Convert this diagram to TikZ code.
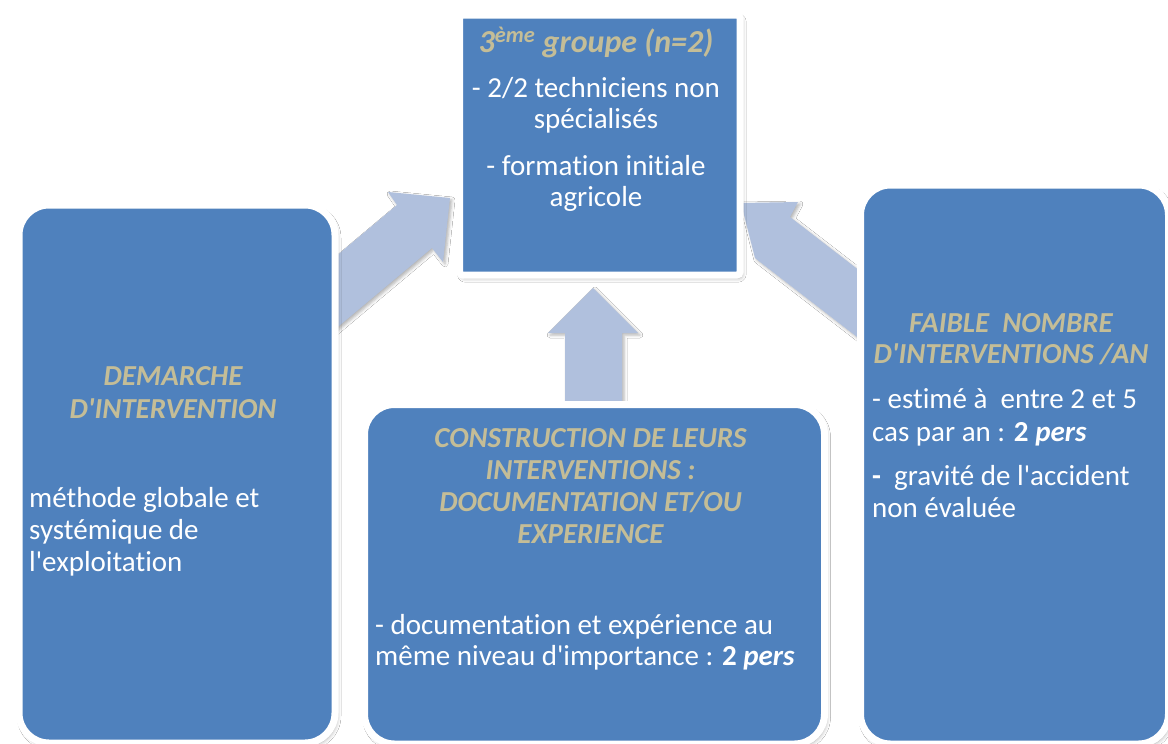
\documentclass[tikz,border=0pt]{standalone}
\usepackage{fontspec}
\setmainfont{Carlito}[Ligatures={TeXOff,NoCommon}]
\usetikzlibrary{shadows.blur}
\definecolor{boxblue}{RGB}{79,129,189}
\definecolor{titletan}{RGB}{196,189,151}
\definecolor{arrowblue}{RGB}{176,192,221}
\begin{document}
\begin{tikzpicture}[x=1pt,y=-1pt,
  panel/.style={draw=white, line width=7pt, fill=boxblue, rounded corners=30pt,
    inner sep=0pt, anchor=north west,
    blur shadow={shadow xshift=2pt, shadow yshift=-3pt, shadow blur radius=4pt, shadow opacity=35}},
  bigarrow/.style={fill=arrowblue,
    blur shadow={shadow xshift=2pt, shadow yshift=-2pt, shadow blur radius=3pt, shadow opacity=30}},
  body/.style={font=\fontsize{29}{31}\selectfont, text=white, inner sep=0pt},
  ttl/.style={font=\fontsize{29}{31}\selectfont\bfseries\itshape, text=titletan, inner sep=0pt},
  bl/.style={body, anchor=base west},
  tl/.style={ttl, anchor=base}]
\useasboundingbox (0,0) rectangle (1168,744);
\fill[white] (0,0) rectangle (1168,744);

% block arrows
\fill[bigarrow] (297,289) -- (397,205) -- (388,192) -- (450,198) -- (443,262) -- (432,248) -- (302,357) -- cycle;
\fill[bigarrow] (908.5,308.5) -- (790,217) -- (798,202) -- (741,203) -- (755,258) -- (760,262) -- (878.5,353.5) -- cycle;
\fill[bigarrow] (565,420) -- (565,333) -- (548,333) -- (593,288) -- (638,333) -- (622,333) -- (622,420) -- cycle;

% panels
\node[panel, minimum width=316pt, minimum height=538pt] (left) at (15.5,201.5) {};
\node[panel, minimum width=460pt, minimum height=339.5pt] (mid) at (361,401) {};
\node[panel, minimum width=308pt, minimum height=559pt] (right) at (857,181.5) {};
\node[panel, rounded corners=3pt, minimum width=280.5pt, minimum height=260pt] (top) at (456,11.5) {};

% top text
\node[tl, font=\fontsize{32}{34}\selectfont\bfseries\itshape] (t1) at (596,52) {3\textsuperscript{ème} groupe (n=2)};
\node[body, anchor=base] (t2) at (596,97) {- 2/2 techniciens non};
\node[body, anchor=base] (t3) at (596,128) {spécialisés};
\node[body, anchor=base] (t4) at (596,175) {- formation initiale};
\node[body, anchor=base] (t5) at (596,206) {agricole};

% left text
\node[tl] (l1) at (173,385) {DEMARCHE};
\node[tl] (l2) at (173,418) {D'INTERVENTION};
\node[bl] (l3) at (29,507) {méthode globale et};
\node[bl] (l4) at (29,539) {systémique de};
\node[bl] (l5) at (29,571) {l'exploitation};

% middle text
\node[tl] (m1) at (590.5,447) {CONSTRUCTION DE LEURS};
\node[tl] (m2) at (590.5,479) {INTERVENTIONS :};
\node[tl] (m3) at (590.5,511) {DOCUMENTATION ET/OU};
\node[tl] (m4) at (590.5,543) {EXPERIENCE};
\node[bl] (m5) at (375,634) {- documentation et expérience au};
\node[bl] (m6) at (375,665) {même niveau d'importance : \textbf{2 \textit{pers}}};

% right text
\node[tl] (r1) at (1011,332) {FAIBLE\ \ NOMBRE};
\node[tl] (r2) at (1011,363) {D'INTERVENTIONS /AN};
\node[bl] (r3) at (872,408) {- estimé à\ \ entre 2 et 5};
\node[bl] (r4) at (872,441) {cas par an : \textbf{2 \textit{pers}}};
\node[bl] (r5) at (872,485) {\textbf{-}\ \ gravité de l'accident};
\node[bl] (r6) at (872,517) {non évaluée};
\end{tikzpicture}
\end{document}
